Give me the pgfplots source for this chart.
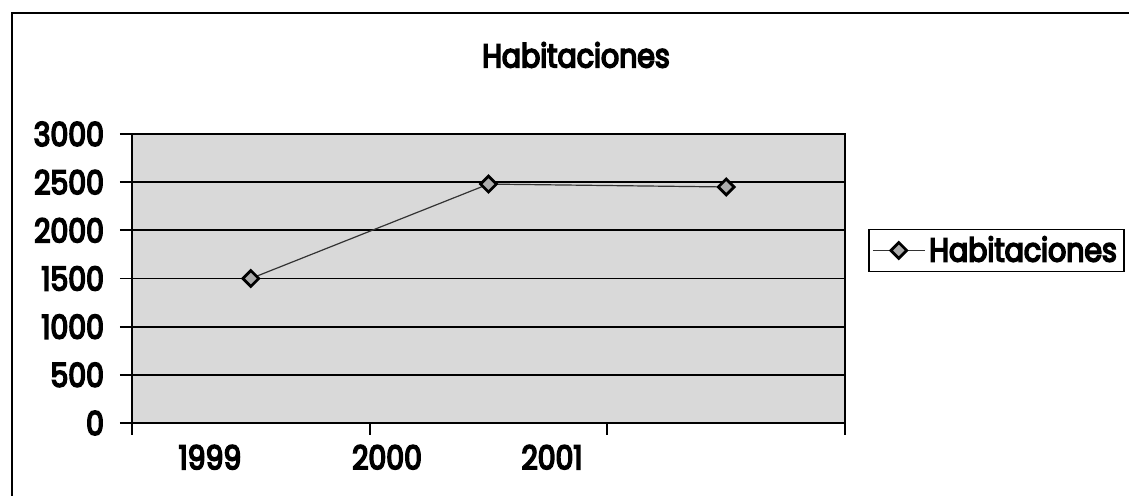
\documentclass[border=0pt]{standalone}
\usepackage{pgfplots}
\pgfplotsset{compat=1.18}
\usepackage{fontspec}
\setmainfont{Poppins}[FakeStretch=0.86, FakeBold=5]
\newcommand{\lab}{\fontsize{16.5}{19}\selectfont}
\begin{document}
\begin{tikzpicture}
\useasboundingbox (0,0) rectangle (564.5pt,-248pt);
\draw[line width=0.8pt] (6pt,-248pt) -- (6pt,-6.5pt) -- (564.5pt,-6.5pt);
\node[font=\lab] at (288pt,-27.5pt) {Habitaciones};
\begin{axis}[
 at={(66pt,-67pt)}, anchor=north west,
 scale only axis, width=356.5pt, height=144.5pt,
 xmin=-0.5, xmax=2.5, ymin=0, ymax=3000,
 ytick={0,500,...,3000},
 xtick={-0.172,0.573,1.267}, xticklabels={1999,2000,2001},
 major x tick style={draw=none},
 minor xtick={-0.5,0.5,1.5,2.5},
 tick align=outside, major tick length=6pt, minor tick length=6pt,
 xtick pos=bottom, ytick pos=left,
 ymajorgrids, grid style={black, line width=0.9pt},
 axis background/.style={fill=gray!30},
 axis line style={black, line width=0.9pt},
 tick style={black, line width=0.9pt},
 ticklabel style={font=\lab},
 yticklabel style={xshift=-4.5pt},
 xticklabel style={yshift=-1.5pt},
 /pgf/number format/assume math mode=true,
 /pgf/number format/1000 sep={},
 legend style={at={(1.2125,0.597)}, anchor=center, draw=black, line width=0.7pt,
   font=\lab, inner sep=1.5pt, outer sep=0pt},
 legend image code/.code={\draw[#1,mark repeat=2,mark phase=2] plot coordinates {(0pt,0pt) (13pt,0pt) (26pt,0pt)};},
]
\addplot[black!80, line width=0.6pt, mark=square*, mark size=2.8pt,
  mark options={fill=gray!65, draw=black, line width=1.4pt, rotate=45}]
  coordinates {(0,1500) (1,2480) (2,2450)};
\addlegendentry{Habitaciones}
\end{axis}
\end{tikzpicture}
\end{document}
